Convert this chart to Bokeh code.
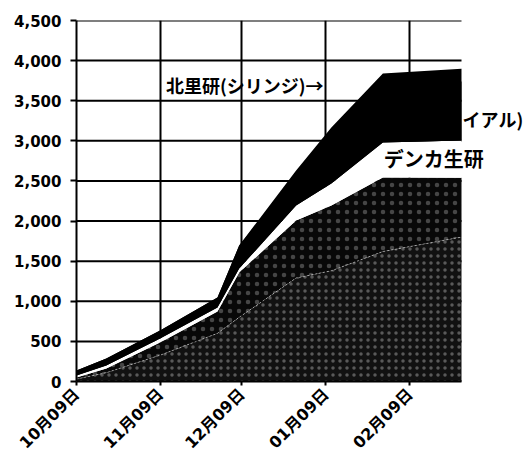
import math
import numpy as np
from bokeh.plotting import figure
from bokeh.models import ColumnDataSource, FixedTicker, NumeralTickFormatter, Label, Range1d
from bokeh.embed import file_html
from bokeh.resources import INLINE

# ---- data (days since 10月09日, stacked series) ----
days = [0, 11, 31, 52, 60, 81, 94, 113, 142]
lower_a = [30, 110, 330, 600, 800, 1290, 1380, 1620, 1800]
lower_b = [20, 52, 160, 273, 559, 717, 814, 923, 740]
denka = [25, 38, 50, 49, 49, 187, 274, 437, 464]
kitasato_vial = [62, 87, 100, 125, 287, 386, 598, 710, 736]
kitasato_syringe = [0, 0, 0, 0, 0, 50, 100, 150, 160]

tick_days = [0, 31, 61, 92, 123]
tick_labels = ["10月09日", "11月09日", "12月09日", "01月09日", "02月09日"]
y_ticks = [0, 500, 1000, 1500, 2000, 2500, 3000, 3500, 4000, 4500]

last_day = days[-1]
x_end = last_day * 450 / 385  # frame runs to the window edge so labels can sit right of the data

names = ["lower_a", "lower_b", "denka", "kitasato_vial"]
src = ColumnDataSource(dict(day=days, lower_a=lower_a, lower_b=lower_b, denka=denka,
                            kitasato_vial=kitasato_vial))

below_kit = np.cumsum([lower_a, lower_b, denka, kitasato_vial], axis=0)
kit_base = below_kit[2]
total = below_kit[3] + np.array(kitasato_syringe)

p = figure(width=526, height=462, output_backend="svg", toolbar_location=None,
           x_range=Range1d(0, x_end), y_range=Range1d(0, 4500),
           min_border_left=76, min_border_right=0, min_border_top=20, min_border_bottom=81)
p.outline_line_color = None
p.background_fill_color = "white"
p.border_fill_color = "white"

# horizontal grid lines, only across the data span
p.segment(x0=[0] * len(y_ticks), x1=[last_day] * len(y_ticks), y0=y_ticks, y1=y_ticks,
          line_color="black", line_width=2, level="underlay")

p.varea_stack(stackers=names, x="day", source=src,
              color=["#111111", "#080808", "white", "black"],
              hatch_pattern=["dot", "dot", " ", " "],
              hatch_color="white", hatch_scale=[7, 9, 6, 6], hatch_alpha=[0.3, 0.25, 0, 0],
              hatch_weight=1)

# Kitasato (vial + syringe) black band drawn as one to avoid seams
p.varea(x=days, y1=kit_base, y2=total, color="black")

# faint separation line inside the dark area (top of the bottom series)
p.line(days, lower_a, line_color="white", line_alpha=0.5, line_width=1, line_dash="2 2")

# grid
p.ygrid.visible = False
p.xgrid.ticker = FixedTicker(ticks=tick_days)
p.xgrid[0].grid_line_color = "black"
p.xgrid[0].grid_line_width = 2
p.xgrid[0].bounds = (0, 4500)

# axes
xa = p.xaxis[0]
xa.ticker = FixedTicker(ticks=tick_days)
xa.bounds = (0, last_day)
xa.major_label_overrides = {d: l for d, l in zip(tick_days, tick_labels)}
xa.major_label_orientation = math.pi / 4
xa.major_label_text_font = "DejaVu Sans, Noto Sans CJK JP"
xa.major_label_text_font_style = "bold"
xa.major_label_text_font_size = "16px"
xa.major_label_text_color = "black"
xa.major_label_standoff = 6
xa.axis_line_width = 2
xa.axis_line_color = "black"
xa.major_tick_out = 4
xa.major_tick_in = 0
xa.major_tick_line_width = 2
xa.minor_tick_line_color = None

ya = p.yaxis[0]
ya.ticker = FixedTicker(ticks=y_ticks)
ya.formatter = NumeralTickFormatter(format="0,0")
ya.major_label_text_font = "DejaVu Sans"
ya.major_label_text_font_style = "bold"
ya.major_label_text_font_size = "15px"
ya.major_label_text_color = "black"
ya.major_label_standoff = 9
ya.axis_line_width = 2
ya.axis_line_color = "black"
ya.major_tick_out = 6
ya.major_tick_in = 0
ya.major_tick_line_width = 2
ya.minor_tick_line_color = None

# annotations
lab_font = "Noto Sans CJK JP"
p.add_layout(Label(x=33, y=3690, text="北里研(シリンジ)→", text_font=lab_font,
                   text_font_style="bold", text_font_size="18px", text_baseline="middle",
                   text_align="left", text_color="black"))
p.add_layout(Label(x=142.4, y=3278, text="イアル)", text_font=lab_font,
                   text_font_style="bold", text_font_size="18px", text_baseline="middle",
                   text_align="left", text_color="black"))
p.add_layout(Label(x=113.3, y=2780, text="デンカ生研", text_font=lab_font,
                   text_font_style="bold", text_font_size="20px", text_baseline="middle",
                   text_align="left", text_color="black"))

open("out.html", "w").write(file_html(p, INLINE))
